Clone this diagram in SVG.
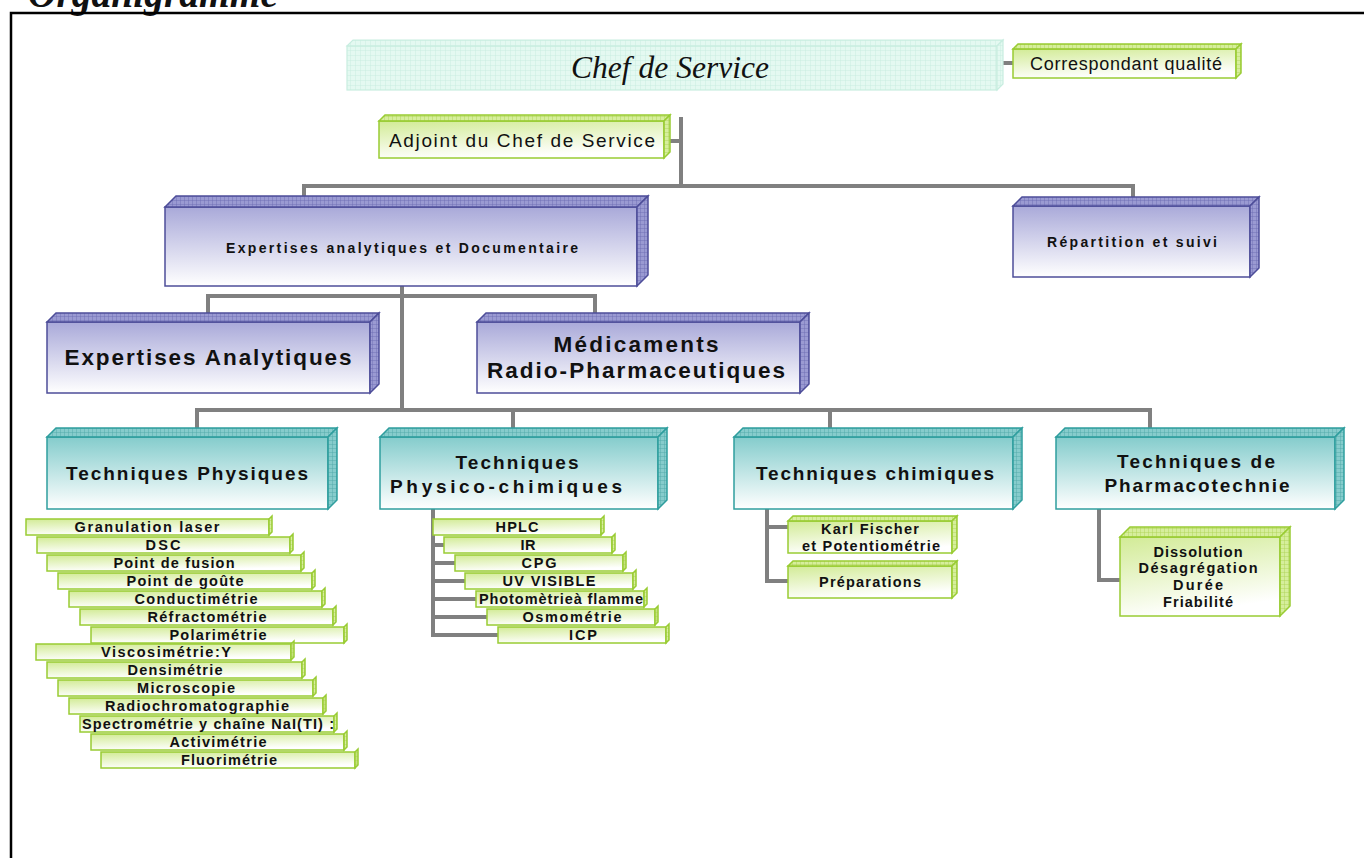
<svg xmlns="http://www.w3.org/2000/svg" width="1364" height="858" viewBox="0 0 1364 858">
<defs>
<pattern id="pB" width="4" height="4" patternUnits="userSpaceOnUse"><rect width="4" height="4" fill="#9a9ad2"/><path d="M0 0H4M0 0V4" stroke="#6a6ab0" stroke-width="0.8"/></pattern>
<pattern id="pT" width="4" height="4" patternUnits="userSpaceOnUse"><rect width="4" height="4" fill="#86cccc"/><path d="M0 0H4M0 0V4" stroke="#4aa6a6" stroke-width="0.8"/></pattern>
<pattern id="pG" width="4" height="4" patternUnits="userSpaceOnUse"><rect width="4" height="4" fill="#d6ee9c"/><path d="M0 0H4M0 0V4" stroke="#a9d14e" stroke-width="0.8"/></pattern>
<pattern id="pC" width="5" height="5" patternUnits="userSpaceOnUse"><rect width="5" height="5" fill="#e4f9f1"/><path d="M0 0H5M0 0V5" stroke="#c3ecdc" stroke-width="0.8"/></pattern>
<linearGradient id="gB" x1="0" y1="0" x2="0" y2="1"><stop offset="0" stop-color="#a9a9d9"/><stop offset="1" stop-color="#ffffff"/></linearGradient>
<linearGradient id="gT" x1="0" y1="0" x2="0" y2="1"><stop offset="0" stop-color="#84cccc"/><stop offset="1" stop-color="#ffffff"/></linearGradient>
<linearGradient id="gG" x1="0" y1="0" x2="0.3" y2="1"><stop offset="0" stop-color="#d2eb96"/><stop offset="1" stop-color="#ffffff"/></linearGradient>
</defs>
<style>
.b rect,.b polygon{stroke:#4d4d99;stroke-width:1.5}
.b rect{fill:url(#gB)}
.b polygon{fill:url(#pB)}
.t rect,.t polygon{stroke:#2f9e9e;stroke-width:1.5}
.t rect{fill:url(#gT)}
.t polygon{fill:url(#pT)}
.g rect,.g polygon{stroke:#99cc33;stroke-width:1.5}
.g rect{fill:url(#gG)}
.g polygon{fill:url(#pG)}
.c rect,.c polygon{stroke:#c8ede0;stroke-width:1.2;fill:url(#pC)}
text{font-family:"Liberation Sans",Arial,sans-serif;fill:#111;text-anchor:middle}
.bd{font-weight:bold}
.s13{font-size:14px}
.s14{font-size:14.5px}
.s18{font-size:19px}
.s21{font-size:22.5px}
#connectors line,#connectors polyline{stroke:#808080;stroke-width:4;fill:none}
</style>
<rect width="1364" height="858" fill="#ffffff"/>
<text x="28" y="7" textLength="250" lengthAdjust="spacingAndGlyphs" style="font-family:'Liberation Serif','Times New Roman',serif;font-size:40px;font-style:italic;font-weight:bold;text-anchor:start">Organigramme</text>
<path d="M11 858V13H1364" fill="none" stroke="#000" stroke-width="2.5"/>

<g id="connectors">
<line x1="1003" y1="63" x2="1013" y2="63"/>
<line x1="681" y1="117" x2="681" y2="186"/>
<line x1="670" y1="141" x2="681" y2="141"/>
<polyline points="304,197 304,186 1133,186 1133,198"/>
<line x1="402" y1="286" x2="402" y2="410"/>
<polyline points="208,314 208,296 595,296 595,314"/>
<polyline points="197,429 197,410 1150,410 1150,429"/>
<line x1="513" y1="410" x2="513" y2="429"/>
<line x1="830" y1="410" x2="830" y2="429"/>
<polyline points="433,509 433,635 498,635"/>
<line x1="433" y1="545" x2="444" y2="545"/>
<line x1="433" y1="563" x2="455" y2="563"/>
<line x1="433" y1="581" x2="465" y2="581"/>
<line x1="433" y1="599" x2="476" y2="599"/>
<line x1="433" y1="617" x2="487" y2="617"/>
<polyline points="767,509 767,581 788,581"/>
<line x1="767" y1="527" x2="788" y2="527"/>
<polyline points="1099,509 1099,580 1120,580"/>
</g>

<g id="chef" class="c">
<rect x="347" y="46" width="650" height="44"/>
<polygon points="347,46 353,40 1003,40 997,46"/>
<polygon points="997,46 1003,40 1003,84 997,90"/>
<text x="670" y="78" style="font-family:'Liberation Serif','Times New Roman',serif;font-style:italic;font-size:31px" textLength="198" lengthAdjust="spacingAndGlyphs">Chef de Service</text>
</g>
<g id="correspondant" class="g">
<rect x="1013" y="49" width="223" height="29"/>
<polygon points="1013,49 1018,44 1241,44 1236,49"/>
<polygon points="1236,49 1241,44 1241,73 1236,78"/>
<text x="1126" y="70" style="font-size:18px" textLength="192">Correspondant qualité</text>
</g>
<g id="adjoint" class="g">
<rect x="379" y="121" width="285" height="37"/>
<polygon points="379,121 385,115 670,115 664,121"/>
<polygon points="664,121 670,115 670,152 664,158"/>
<text x="522" y="147" style="font-size:19px" textLength="266">Adjoint du Chef de Service</text>
</g>
<g id="expertises-doc" class="b">
<rect x="165" y="207" width="472" height="79"/>
<polygon points="165,207 176,196 648,196 637,207"/>
<polygon points="637,207 648,196 648,275 637,286"/>
<text x="402" y="253" class="bd s13" textLength="352">Expertises analytiques et Documentaire</text>
</g>
<g id="repartition" class="b">
<rect x="1013" y="206" width="237" height="71"/>
<polygon points="1013,206 1022,197 1259,197 1250,206"/>
<polygon points="1250,206 1259,197 1259,268 1250,277"/>
<text x="1132" y="247" class="bd s13" textLength="170">Répartition et suivi</text>
</g>
<g id="expertises-analytiques" class="b">
<rect x="47" y="322" width="323" height="71"/>
<polygon points="47,322 56,313 379,313 370,322"/>
<polygon points="370,322 379,313 379,384 370,393"/>
<text x="208" y="365" class="bd s21" textLength="287">Expertises Analytiques</text>
</g>
<g id="medicaments" class="b">
<rect x="477" y="322" width="323" height="71"/>
<polygon points="477,322 486,313 809,313 800,322"/>
<polygon points="800,322 809,313 809,384 800,393"/>
<text x="636" y="352" class="bd s21" textLength="165">Médicaments</text>
<text x="636" y="378" class="bd s21" textLength="298">Radio-Pharmaceutiques</text>
</g>

<g id="tech-physiques" class="t">
<rect x="47" y="437" width="281" height="72"/>
<polygon points="47,437 56,428 337,428 328,437"/>
<polygon points="328,437 337,428 337,500 328,509"/>
<text x="187" y="480" class="bd s18" textLength="242">Techniques Physiques</text>
</g>
<g id="tech-physico" class="t">
<rect x="380" y="437" width="278" height="72"/>
<polygon points="380,437 389,428 667,428 658,437"/>
<polygon points="658,437 667,428 667,500 658,509"/>
<text x="517" y="469" class="bd s18" textLength="123">Techniques</text>
<text x="506" y="493" class="bd s18" textLength="232">Physico-chimiques</text>
</g>
<g id="tech-chimiques" class="t">
<rect x="734" y="437" width="279" height="72"/>
<polygon points="734,437 743,428 1022,428 1013,437"/>
<polygon points="1013,437 1022,428 1022,500 1013,509"/>
<text x="875" y="480" class="bd s18" textLength="238">Techniques chimiques</text>
</g>
<g id="tech-pharmaco" class="t">
<rect x="1056" y="437" width="279" height="72"/>
<polygon points="1056,437 1065,428 1344,428 1335,437"/>
<polygon points="1335,437 1344,428 1344,500 1335,509"/>
<text x="1196" y="468" class="bd s18" textLength="158">Techniques de</text>
<text x="1197" y="492" class="bd s18" textLength="185">Pharmacotechnie</text>
</g>

<g id="granulation" class="g"><rect x="26" y="519" width="243" height="16"/><polygon points="269,519 272,516 272,532 269,535"/><text x="147" y="532" class="bd s14" textLength="145">Granulation  laser</text></g>
<g id="dsc" class="g"><rect x="37" y="537" width="253" height="16"/><polygon points="290,537 293,534 293,550 290,553"/><text x="163" y="550" class="bd s14" textLength="35">DSC</text></g>
<g id="fusion" class="g"><rect x="47" y="555" width="254" height="16"/><polygon points="301,555 304,552 304,568 301,571"/><text x="174" y="568" class="bd s14" textLength="121">Point de fusion</text></g>
<g id="goute" class="g"><rect x="58" y="573" width="254" height="16"/><polygon points="312,573 315,570 315,586 312,589"/><text x="185" y="586" class="bd s14" textLength="117">Point de goûte</text></g>
<g id="conductimetrie" class="g"><rect x="69" y="591" width="253" height="16"/><polygon points="322,591 325,588 325,604 322,607"/><text x="196" y="604" class="bd s14" textLength="123">Conductimétrie</text></g>
<g id="refractometrie" class="g"><rect x="80" y="609" width="253" height="16"/><polygon points="333,609 336,606 336,622 333,625"/><text x="207" y="622" class="bd s14" textLength="119">Réfractométrie</text></g>
<g id="polarimetrie" class="g"><rect x="91" y="627" width="253" height="16"/><polygon points="344,627 347,624 347,640 344,643"/><text x="218" y="640" class="bd s14" textLength="97">Polarimétrie</text></g>
<g id="viscosimetrie" class="g"><rect x="36" y="644" width="255" height="16"/><polygon points="291,644 294,641 294,657 291,660"/><text x="166" y="657" class="bd s14" textLength="130">Viscosimétrie:Y</text></g>
<g id="densimetrie" class="g"><rect x="47" y="662" width="255" height="16"/><polygon points="302,662 305,659 305,675 302,678"/><text x="175" y="675" class="bd s14" textLength="95">Densimétrie</text></g>
<g id="microscopie" class="g"><rect x="58" y="680" width="255" height="16"/><polygon points="313,680 316,677 316,693 313,696"/><text x="186" y="693" class="bd s14" textLength="98">Microscopie</text></g>
<g id="radiochromatographie" class="g"><rect x="69" y="698" width="254" height="16"/><polygon points="323,698 326,695 326,711 323,714"/><text x="197" y="711" class="bd s14" textLength="184">Radiochromatographie</text></g>
<g id="spectrometrie" class="g"><rect x="80" y="716" width="254" height="16"/><polygon points="334,716 337,713 337,729 334,732"/><text x="208" y="729" class="bd s14" textLength="252">Spectrométrie y chaîne NaI(TI) :</text></g>
<g id="activimetrie" class="g"><rect x="91" y="734" width="253" height="16"/><polygon points="344,734 347,731 347,747 344,750"/><text x="218" y="747" class="bd s14" textLength="97">Activimétrie</text></g>
<g id="fluorimetrie" class="g"><rect x="101" y="752" width="254" height="16"/><polygon points="355,752 358,749 358,765 355,768"/><text x="229" y="765" class="bd s14" textLength="96">Fluorimétrie</text></g>

<g id="hplc" class="g"><rect x="433" y="519" width="168" height="16"/><polygon points="601,519 604,516 604,532 601,535"/><text x="517" y="532" class="bd s14" textLength="43">HPLC</text></g>
<g id="ir" class="g"><rect x="444" y="537" width="168" height="16"/><polygon points="612,537 615,534 615,550 612,553"/><text x="528" y="550" class="bd s14" textLength="15">IR</text></g>
<g id="cpg" class="g"><rect x="455" y="555" width="168" height="16"/><polygon points="623,555 626,552 626,568 623,571"/><text x="539" y="568" class="bd s14" textLength="35">CPG</text></g>
<g id="uv" class="g"><rect x="465" y="573" width="168" height="16"/><polygon points="633,573 636,570 636,586 633,589"/><text x="549" y="586" class="bd s14" textLength="93">UV VISIBLE</text></g>
<g id="photometrie" class="g"><rect x="476" y="591" width="168" height="16"/><polygon points="644,591 647,588 647,604 644,607"/><text x="561" y="604" class="bd s14" textLength="164">Photomètrieà flamme</text></g>
<g id="osmometrie" class="g"><rect x="487" y="609" width="168" height="16"/><polygon points="655,609 658,606 658,622 655,625"/><text x="572" y="622" class="bd s14" textLength="99">Osmométrie</text></g>
<g id="icp" class="g"><rect x="498" y="627" width="168" height="16"/><polygon points="666,627 669,624 669,640 666,643"/><text x="583" y="640" class="bd s14" textLength="28">ICP</text></g>

<g id="karl-fischer" class="g">
<rect x="788" y="521" width="164" height="32"/>
<polygon points="788,521 793,516 957,516 952,521"/>
<polygon points="952,521 957,516 957,548 952,553"/>
<text x="870" y="534" class="bd s14" textLength="98">Karl Fischer</text>
<text x="871" y="551" class="bd s14" textLength="138">et Potentiométrie</text>
</g>
<g id="preparations" class="g">
<rect x="788" y="566" width="164" height="32"/>
<polygon points="788,566 793,561 957,561 952,566"/>
<polygon points="952,566 957,561 957,593 952,598"/>
<text x="870" y="587" class="bd s14" textLength="102">Préparations</text>
</g>
<g id="dissolution" class="g">
<rect x="1120" y="537" width="160" height="79"/>
<polygon points="1120,537 1130,527 1290,527 1280,537"/>
<polygon points="1280,537 1290,527 1290,606 1280,616"/>
<text x="1198" y="557" class="bd s14" textLength="89">Dissolution</text>
<text x="1198" y="573" class="bd s14" textLength="119">Désagrégation</text>
<text x="1198" y="590" class="bd s14" textLength="50">Durée</text>
<text x="1198" y="607" class="bd s14" textLength="70">Friabilité</text>
</g>
</svg>
